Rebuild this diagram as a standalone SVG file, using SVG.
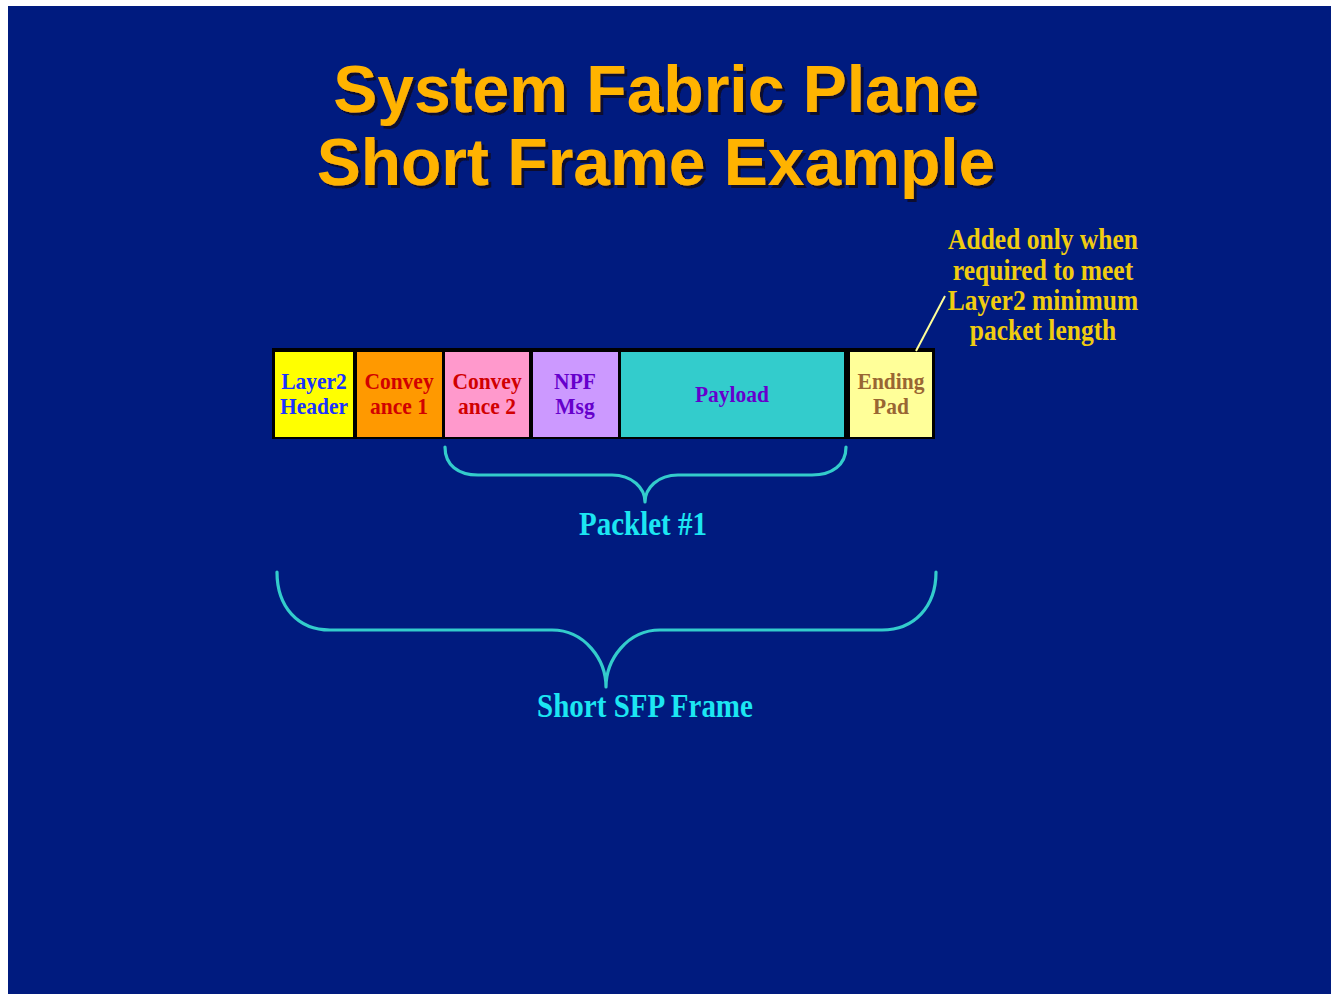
<svg xmlns="http://www.w3.org/2000/svg" width="1331" height="994" viewBox="0 0 1331 994">
  <defs>
    <filter id="title-shadow" x="-5%" y="-20%" width="110%" height="140%">
      <feDropShadow dx="3" dy="3" stdDeviation="0.4" flood-color="#0b0b2e" flood-opacity="1"/>
    </filter>
  </defs>
  <style>
    .title { font-family: "Liberation Sans", Arial, sans-serif; font-weight: bold; font-size: 66px; text-anchor: middle; fill: #FFB300; }
    .cell-label { font-family: "Liberation Serif", "Times New Roman", serif; font-weight: bold; font-size: 21.5px; text-anchor: middle; }
    .cell { stroke: none; }
    .note { font-family: "Liberation Serif", "Times New Roman", serif; font-weight: bold; font-size: 25.5px; text-anchor: middle; fill: #F0CC10; }
    .brace-label { font-family: "Liberation Serif", "Times New Roman", serif; font-weight: bold; font-size: 29px; text-anchor: middle; fill: #1CE6F2; }
    .brace { fill: none; stroke: #33CCCC; stroke-width: 3.2; stroke-linecap: round; stroke-linejoin: round; }
  </style>

  <!-- page and slide background -->
  <rect x="0" y="0" width="1331" height="994" fill="#ffffff"/>
  <rect x="8" y="6" width="1323" height="988" fill="#001B7F"/>

  <!-- title with drop shadow -->
  <g id="title" filter="url(#title-shadow)">
    <text class="title" x="656" y="112">System Fabric Plane</text>
    <text class="title" x="656" y="185">Short Frame Example</text>
  </g>

  <!-- frame outline -->
  <g id="frame">
    <rect x="272" y="348" width="663" height="91" fill="#000000"/>
  </g>

  <g id="layer2-header">
    <rect class="cell" x="275" y="352" width="78" height="85" fill="#FFFF00"/>
    <text class="cell-label" fill="#1A33FF" transform="translate(314,389) scale(1,1.12)">Layer2</text>
    <text class="cell-label" fill="#1A33FF" transform="translate(314,414) scale(1,1.12)">Header</text>
  </g>

  <g id="conveyance-1">
    <rect class="cell" x="357" y="352" width="85" height="85" fill="#FF9900"/>
    <text class="cell-label" fill="#D10000" transform="translate(399,389) scale(1,1.12)">Convey</text>
    <text class="cell-label" fill="#D10000" transform="translate(399,414) scale(1,1.12)">ance 1</text>
  </g>

  <g id="conveyance-2">
    <rect class="cell" x="445" y="352" width="84" height="85" fill="#FF99CC"/>
    <text class="cell-label" fill="#D10000" transform="translate(487,389) scale(1,1.12)">Convey</text>
    <text class="cell-label" fill="#D10000" transform="translate(487,414) scale(1,1.12)">ance 2</text>
  </g>

  <g id="npf-msg">
    <rect class="cell" x="533" y="352" width="85" height="85" fill="#CC99FF"/>
    <text class="cell-label" fill="#6600CC" transform="translate(575,389) scale(1,1.12)">NPF</text>
    <text class="cell-label" fill="#6600CC" transform="translate(575,414) scale(1,1.12)">Msg</text>
  </g>

  <g id="payload">
    <rect class="cell" x="621" y="352" width="223" height="85" fill="#33CCCC"/>
    <text class="cell-label" fill="#6600CC" transform="translate(732,402) scale(1,1.12)">Payload</text>
  </g>

  <g id="ending-pad">
    <rect class="cell" x="850" y="352" width="82" height="85" fill="#FFFF99"/>
    <text class="cell-label" fill="#996633" transform="translate(891,389) scale(1,1.12)">Ending</text>
    <text class="cell-label" fill="#996633" transform="translate(891,414) scale(1,1.12)">Pad</text>
  </g>

  <!-- annotation for the ending pad -->
  <g id="pad-note">
    <text class="note" transform="translate(1043,249) scale(1,1.12)">Added only when</text>
    <text class="note" transform="translate(1043,280) scale(1,1.12)">required to meet</text>
    <text class="note" transform="translate(1043,310) scale(1,1.12)">Layer2 minimum</text>
    <text class="note" transform="translate(1043,340) scale(1,1.12)">packet length</text>
  </g>

  <!-- connectors: leader line and braces -->
  <g id="connectors">
    <line x1="945" y1="296" x2="916" y2="351" stroke="#FFFF99" stroke-width="2"/>
    <path class="brace" d="M445,447 C445,465 458,475 478,475 L612,475 C632,475 645,488 645,502 C645,488 658,475 678,475 L812,475 C832,475 846,465 846,447"/>
    <path class="brace" d="M277,572 C277,607 298,630 330,630 L552,630 C585,630 606,660 606,687 C606,660 627,630 660,630 L882,630 C914,630 936,607 936,572"/>
  </g>

  <g id="packlet-label">
    <text class="brace-label" transform="translate(643,535) scale(1,1.18)">Packlet #1</text>
  </g>

  <g id="frame-label">
    <text class="brace-label" transform="translate(645,717) scale(1,1.18)">Short SFP Frame</text>
  </g>
</svg>
